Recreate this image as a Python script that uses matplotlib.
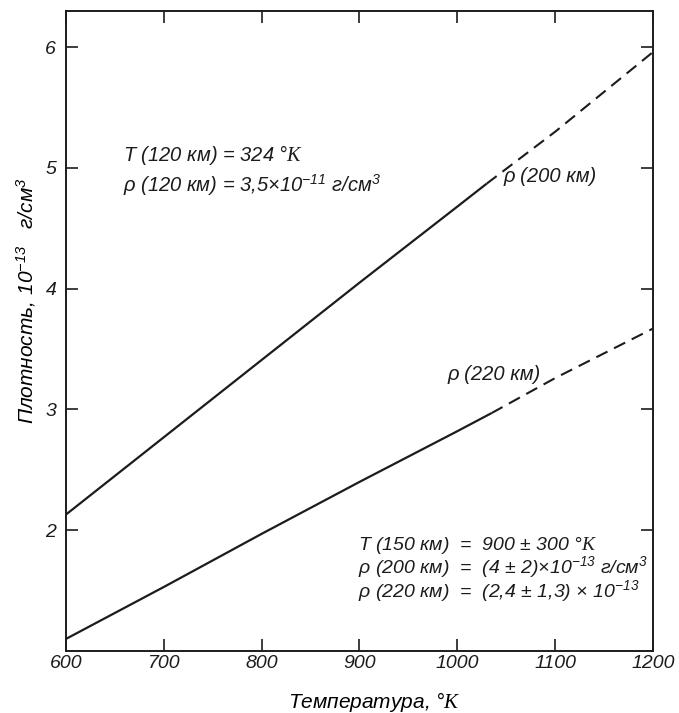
import matplotlib
matplotlib.use('Agg')

import matplotlib.pyplot as plt

# температура, °K
temp_solid = [600, 700, 800, 900, 1000, 1030]
temp_dash_200 = [1030, 1100, 1200]
temp_solid_220 = [600, 700, 800, 900, 1000, 1035]
temp_dash_220 = [1035, 1100, 1200]

# плотность, 1e-13 г/см3
rho200_solid = [2.13, 2.77, 3.41, 4.05, 4.68, 4.87]
rho200_dash = [4.87, 5.30, 5.96]
rho220_solid = [1.10, 1.53, 1.97, 2.40, 2.82, 2.97]
rho220_dash = [2.97, 3.26, 3.67]

x_ticks = [600, 700, 800, 900, 1000, 1100, 1200]
x_ticklabels = ['600', '700', '800', '900', '1000', '1100', '1200']
y_ticks = [2, 3, 4, 5, 6]

INK = '#1c1c1c'
FONT = ['Liberation Sans', 'DejaVu Sans']

plt.rcParams['font.family'] = FONT
plt.rcParams['font.style'] = 'italic'
plt.rcParams['mathtext.fontset'] = 'custom'
plt.rcParams['mathtext.default'] = 'it'
plt.rcParams['mathtext.it'] = 'Liberation Sans:style=italic'
plt.rcParams['mathtext.rm'] = 'Liberation Serif'
plt.rcParams['mathtext.sf'] = 'Liberation Sans:style=italic'
plt.rcParams['text.color'] = INK

fig = plt.figure(figsize=(6.79, 7.13), dpi=100)
ax = fig.add_axes([0.0972, 0.0870, 0.8645, 0.8976])

ax.plot(temp_solid, rho200_solid, color=INK, lw=1.6, solid_capstyle='butt')
ax.plot(temp_dash_200, rho200_dash, color=INK, lw=1.5, dashes=(6, 3.5))
ax.plot(temp_solid_220, rho220_solid, color=INK, lw=1.6, solid_capstyle='butt')
ax.plot(temp_dash_220, rho220_dash, color=INK, lw=1.5, dashes=(6, 3.5))

ax.set_xlim(600, 1200)
ax.set_ylim(1.0, 6.30)
ax.set_xticks(x_ticks)
ax.set_xticklabels(x_ticklabels)
ax.set_yticks(y_ticks)
ax.tick_params(direction='in', length=8.5, width=1.2, colors=INK,
               top=True, right=True, labelsize=14)
ax.tick_params(axis='x', pad=3)
ax.tick_params(axis='y', pad=7)
for sp in ax.spines.values():
    sp.set_linewidth(1.4)
    sp.set_color(INK)

ax.set_xlabel('Температура, °$\\mathrm{K}$', fontsize=15, va='center')
ax.xaxis.set_label_coords(0.526, -0.080)
ax.set_ylabel('Плотность, $\\mathsf{10^{-13}}$   г/см$\\mathsf{^3}$',
              fontsize=15, va='center')
ax.yaxis.set_label_coords(-0.068, 0.547)

top = dict(fontsize=14.5, ha='left', va='center')
ax.text(658, 5.11, 'T (120 км) = 324 °$\\mathrm{K}$', **top)
ax.text(658, 4.86, 'ρ (120 км) = 3,5×$\\mathsf{10^{-11}}$ г/см$\\mathsf{^3}$', **top)

ax.text(1047, 4.93, 'ρ (200 км)', **top)
ax.text(990, 3.29, 'ρ (220 км)', **top)

# оценки из наблюдений, одним блоком
notes = [
    'T (150 км)  =  900 ± 300 °$\\mathrm{K}$',
    'ρ (200 км)  =  (4 ± 2)×$\\mathsf{10^{-13}}$ г/см$\\mathsf{^3}$',
    'ρ (220 км)  =  (2,4 ± 1,3) × $\\mathsf{10^{-13}}$',
]
ax.text(898, 1.675, '\n'.join(notes), fontsize=14, ha='left', va='center',
        linespacing=0.92)

fig.savefig('out.png', dpi=100, facecolor='white')
